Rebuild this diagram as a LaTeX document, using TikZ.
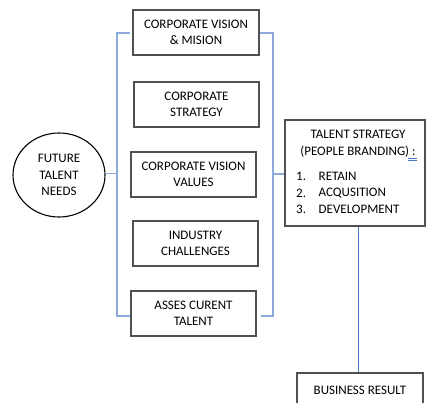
\documentclass[tikz,border=0pt]{standalone}
\usepackage{fontspec}
\setmainfont{Carlito}
\usetikzlibrary{shapes.geometric,calc}
\definecolor{boxgray}{HTML}{505050}
\definecolor{lightblue}{HTML}{8EA9DB}
\definecolor{midblue}{HTML}{4A76C6}
\begin{document}
\begin{tikzpicture}[x=1pt,y=-1pt,
  every node/.style={font=\fontsize{13}{16.5}\selectfont, inner sep=0pt},
  box/.style={draw=boxgray, line width=1.1pt, minimum width=125pt, minimum height=45pt, align=center},
  blueline/.style={draw=lightblue, line width=1.1pt},
  darkline/.style={draw=midblue, line width=1pt}]
\useasboundingbox (0,0) rectangle (426,403);
\node[ellipse, draw=black, line width=1.1pt, minimum width=92pt, minimum height=84pt, align=center] (future) at (59,175) {FUTURE\\TALENT\\NEEDS};
\node[box, minimum width=126pt] (b1) at (196,32.5) {CORPORATE VISION\\\& MISION};
\node[box] (b2) at (196.5,104.5) {CORPORATE\\STRATEGY};
\node[box] (b3) at (193.5,174.5) {CORPORATE VISION\\VALUES};
\node[box] (b4) at (195.5,243.5) {INDUSTRY\\CHALLENGES};
\node[box] (b5) at (193.5,313.5) {ASSES CURENT\\TALENT};
\node[draw=boxgray, line width=1.1pt, minimum width=140pt, minimum height=106pt] (talent) at (355,173) {};
\node[align=center] (ttitle) at (358,143.5) {TALENT STRATEGY\\(PEOPLE BRANDING) :};
\node[anchor=west] (n1) at (296,176) {1.};
\node[anchor=west] (n2) at (296,193) {2.};
\node[anchor=west] (n3) at (296,209.5) {3.};
\node[anchor=west] (i1) at (318.5,176) {RETAIN};
\node[anchor=west] (i2) at (318.5,193) {ACQUSITION};
\node[anchor=west] (i3) at (318.5,209.5) {DEVELOPMENT};
\node[draw=boxgray, line width=1.1pt, minimum width=126pt, minimum height=34pt] (result) at (360,390) {BUSINESS RESULT};
% squiggle under grammar mark
\draw[midblue, line width=0.5pt] (408,158.3) -- (417,158.3) (408,160.3) -- (417,160.3);
% left bracket
\coordinate (lt) at (117,33);
\coordinate (lb) at (117,316);
\coordinate (lm) at (117,173.5);
\draw[blueline] (130,33) -- (lt) -- (lb) -- (130,316);
\draw[blueline] (future.east |- lm) -- (lm);
% right bracket
\coordinate (rt) at (273,33);
\coordinate (rb) at (273,316);
\coordinate (rm) at (273,174);
\draw[blueline] (260,33) -- (rt) -- (rb) -- (261,316);
\draw[blueline] (rm) -- (talent.west |- rm);
% vertical to result
\coordinate (vx) at (358,0);
\draw[darkline] (talent.south -| vx) -- (result.north -| vx);
\end{tikzpicture}
\end{document}
